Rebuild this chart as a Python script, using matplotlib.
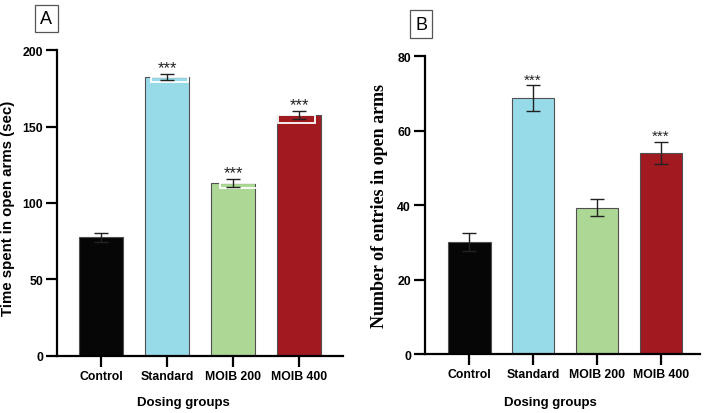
import matplotlib.pyplot as plt
from matplotlib.patches import Rectangle

groups = ['Control', 'Standard', 'MOIB 200', 'MOIB 400']
colors = ['#060606', '#98dbe8', '#acd794', '#a01a20']

time_mean = [77.5, 182.5, 113.0, 157.5]
time_err = [2.8, 2.0, 2.5, 2.5]
time_sig = ['', '***', '***', '***']

entries_mean = [30.1, 68.7, 39.3, 54.0]
entries_err = [2.4, 3.4, 2.3, 3.0]
entries_sig = ['', '***', '', '***']

plt.rcParams['font.family'] = 'Liberation Sans'

fig = plt.figure(figsize=(7.09, 4.14), dpi=100)
axA = fig.add_axes([0.0804, 0.1377, 0.4034, 0.7391])
axB = fig.add_axes([0.5994, 0.1425, 0.3879, 0.7198])


def draw_panel(ax, means, errs, sigs, ymax, step, xlim, sig_size):
    x = range(len(groups))
    ax.bar(x, means, width=0.67, color=colors, edgecolor='#505050', linewidth=0.8, zorder=2)
    ax.errorbar(x, means, yerr=errs, fmt='none', ecolor='#222222', elinewidth=1.0,
                capsize=5, capthick=1.0, zorder=3)
    for i, s in enumerate(sigs):
        if s:
            ax.text(i, means[i] + errs[i] - ymax * 0.004, s, ha='center', va='bottom',
                    fontsize=sig_size, color='#222222')
    ax.set_xlim(*xlim)
    ax.set_ylim(0, ymax)
    ax.set_yticks(range(0, ymax + 1, step))
    ax.set_xticks(list(x))
    ax.set_xticklabels(groups, fontsize=8.8, fontweight='bold')
    for lab in ax.get_yticklabels():
        lab.set_fontsize(8.8)
        lab.set_fontweight('bold')
    for side in ['top', 'right']:
        ax.spines[side].set_visible(False)
    for side in ['left', 'bottom']:
        ax.spines[side].set_linewidth(1.6)
    ax.tick_params(axis='both', direction='out', length=8, width=1.6, pad=2)
    ax.set_xlabel('Dosing groups', fontsize=9.5, fontweight='bold')


draw_panel(axA, time_mean, time_err, time_sig, 200, 50, (-0.667, 3.667), 12)
draw_panel(axB, entries_mean, entries_err, entries_sig, 80, 20, (-0.69, 3.61), 11)

axA.set_ylabel('Time spent in open arms (sec)', fontsize=10.8, fontweight='bold')
axB.set_ylabel('Number of entries in open arms', fontsize=13, fontweight='bold',
               family='Liberation Serif')

# label placement as in the original figure
axA.xaxis.set_label_coords(0.442, -0.131)
axB.xaxis.set_label_coords(0.455, -0.141)
axA.yaxis.set_label_coords(-0.147, 0.485)
axB.yaxis.set_label_coords(-0.135, 0.5)

# white outline boxes seen at the top of some bars in panel A
for i, x0, h in [(1, -0.24, 3.5), (2, -0.20, 3.5), (3, -0.32, 5.0)]:
    axA.add_patch(Rectangle((i + x0, time_mean[i] - h), 0.56, h,
                            fill=False, edgecolor='white', linewidth=1.3, zorder=2.5))

fig.text(0.0651, 0.953, 'A', fontsize=13, ha='center', va='center',
         bbox=dict(boxstyle='square,pad=0.3', facecolor='white', edgecolor='#555555', linewidth=0.9))
fig.text(0.5938, 0.9396, 'B', fontsize=13, ha='center', va='center',
         bbox=dict(boxstyle='square,pad=0.3', facecolor='white', edgecolor='#555555', linewidth=0.9))

fig.savefig('out.png', dpi=100)
